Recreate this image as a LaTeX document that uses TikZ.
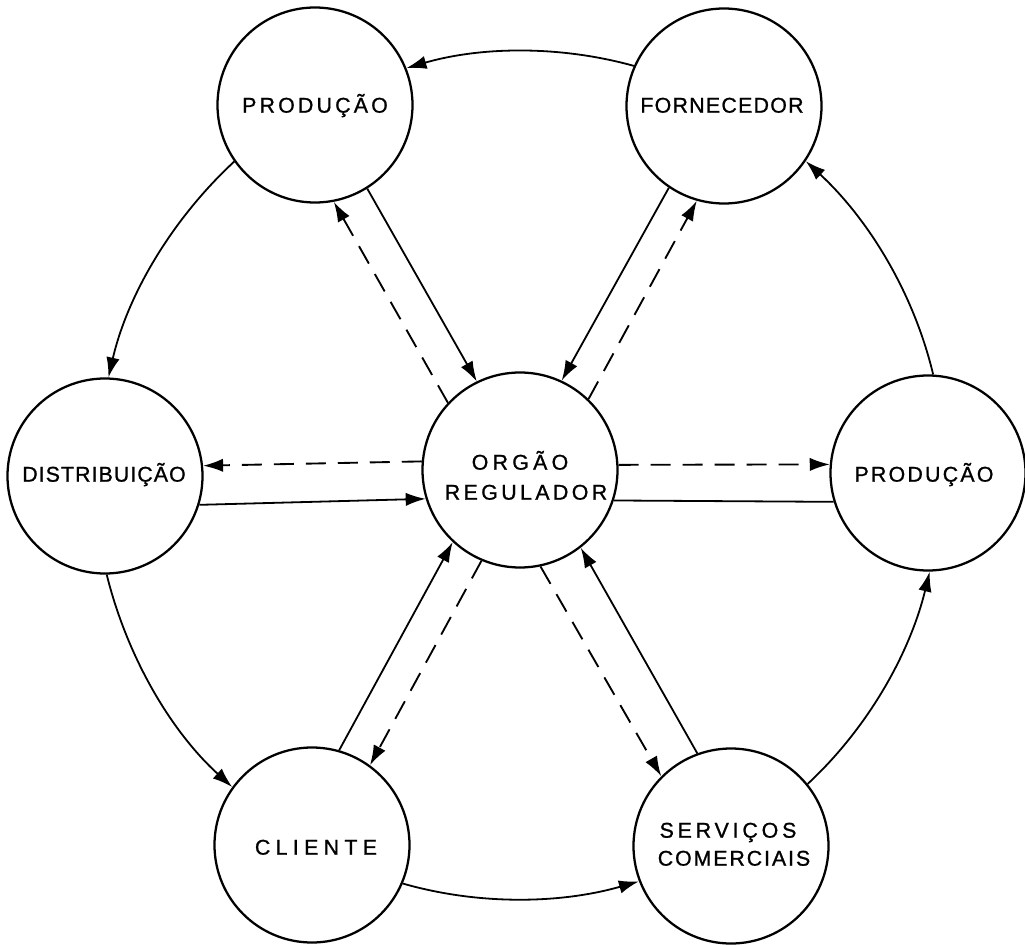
\documentclass[tikz,border=0pt]{standalone}
\usepackage{fontspec}
\setmainfont{Liberation Sans}[FakeBold=1]
\usetikzlibrary{arrows.meta}
\begin{document}
\begin{tikzpicture}[x=0.75pt,y=0.75pt,
  station/.style={circle,draw,line width=1.7pt,minimum size=146.25pt,inner sep=0pt},
  caption/.style={font=\fontsize{16}{18}\selectfont,inner sep=0pt,text height=11.5pt,text depth=0pt},
  tip/.style={-{Latex[length=15pt,width=10pt]}},
  flow/.style={line width=1.35pt},
  info/.style={line width=1.4pt,dash pattern=on 15pt off 9pt},
  ring/.style={flow,tip,looseness=0.87}]

\useasboundingbox (0,0) rectangle (1025,-945);
\fill[white] (0,0) rectangle (1025,-945);

% circles
\node[station] (C)  at (520,-470) {};
\node[station] (TL) at (315,-105) {};
\node[station] (TR) at (724,-106) {};
\node[station] (L)  at (105,-476) {};
\node[station] (R)  at (928,-473) {};
\node[station] (BL) at (312,-845) {};
\node[station] (BR) at (731,-846) {};

% labels
\node[caption] (tC1) at (520,-462) {\addfontfeature{LetterSpace=20}ORGÃO};
\node[caption] (tC2) at (526,-492) {\addfontfeature{LetterSpace=16}REGULADOR};
\node[caption] (tTL) at (315,-105) {\addfontfeature{LetterSpace=15}PRODUÇÃO};
\node[caption] (tTR) at (722,-105) {\addfontfeature{LetterSpace=6}FORNECEDOR};
\node[caption] (tL)  at (104,-474) {\addfontfeature{LetterSpace=5}DISTRIBUIÇÃO};
\node[caption] (tR)  at (924,-474) {\addfontfeature{LetterSpace=10.5}PRODUÇÃO};
\node[caption] (tBL) at (316,-847) {\addfontfeature{LetterSpace=25}CLIENTE};
\node[caption] (tBR1) at (728,-830) {\addfontfeature{LetterSpace=18}SERVIÇOS};
\node[caption] (tBR2) at (734,-858) {\addfontfeature{LetterSpace=9}COMERCIAIS};

% outer cycle
\draw[ring] (TR.156.8) to[out=164.5,in=16.1] (TL.22.8);
\draw[ring] (TL.215.3) to[out=222.8,in=77] (L.88.2);
\draw[ring] (L.271.7) to[out=283.9,in=137.7] (BL.144.2);
\draw[ring] (BL.337.9) to[out=344,in=196] (BR.201);
\draw[ring] (BR.39.3) to[out=42.9,in=256.3] (R.271.1);
\draw[ring] (R.87.7) to[out=103.4,in=317.3] (TR.326);

% spokes: distribution
\draw[info,tip] (C.175.5) -- (L.6.2);
\draw[flow,tip] (L.343.8) -- (C.197.8);
% spokes: right production
\draw[info,tip] (C.3.95) -- (R.175.2);
\draw[flow] (C.342.15) -- (R.197.0);
% spokes: upper production
\draw[flow,tip] (TL.302.2) -- (C.116.4);
\draw[info,tip] (C.137.05) -- (TL.281.6);
% spokes: supplier
\draw[flow,tip] (TR.236.1) -- (C.65.4);
\draw[info,tip] (C.46.9) -- (TR.254.6);
% spokes: client
\draw[flow,tip] (BL.74.5) -- (C.227.5);
\draw[info,tip] (C.247.2) -- (BL.54.7);
% spokes: commercial services
\draw[flow,tip] (BR.110.5) -- (C.308.1);
\draw[info,tip] (C.282.8) -- (BR.135.8);
\end{tikzpicture}
\end{document}
